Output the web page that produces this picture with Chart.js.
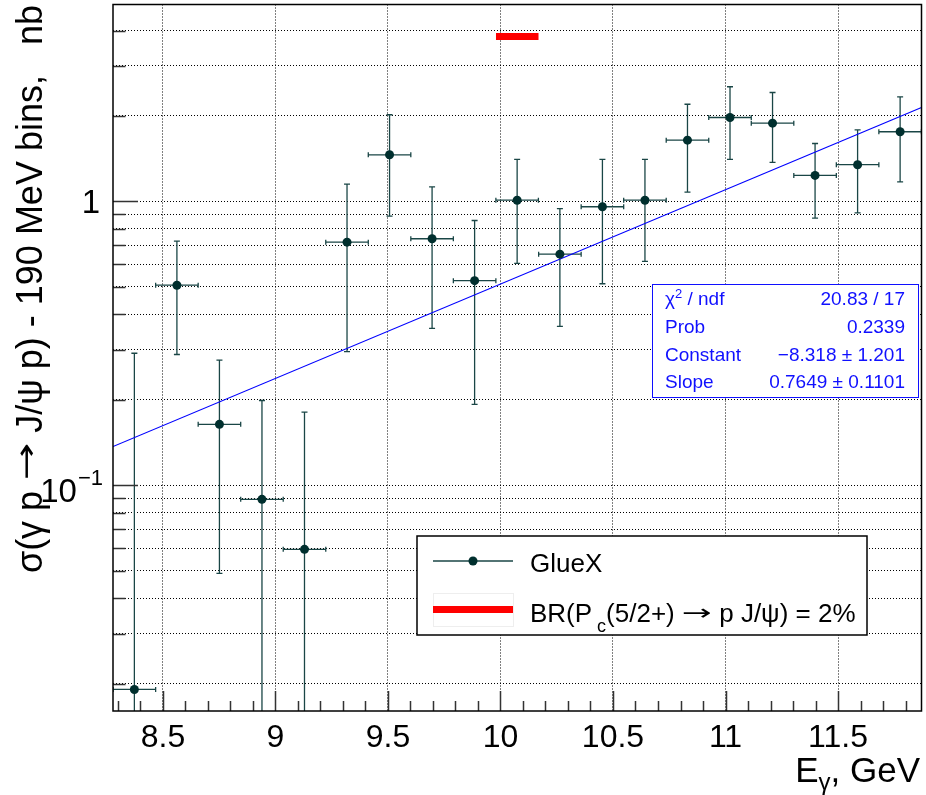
<!DOCTYPE html>
<html>
<head>
<meta charset="utf-8">
<title>J/psi photoproduction cross section</title>
<script src="https://cdn.jsdelivr.net/npm/chart.js@4.4.1/dist/chart.umd.min.js"></script>
<style>
  html, body { margin: 0; padding: 0; background: #fff; }
  canvas { display: block; }
</style>
</head>
<body>
<canvas id="chart" width="926" height="795"></canvas>
<script>
// photon energy bin centres (GeV), 190 MeV bins
const eGamma = [8.373, 8.562, 8.751, 8.940, 9.129, 9.318, 9.507, 9.696, 9.885, 10.074,
                10.264, 10.453, 10.642, 10.831, 11.020, 11.209, 11.398, 11.587, 11.776];
const binWidth = 0.189;

// cross section (nb) and the ends of the error bars
const sigma   = [0.0191, 0.507, 0.164, 0.0893, 0.0595, 0.719, 1.46, 0.739, 0.526, 1.01,
                 0.652, 0.958, 1.01, 1.644, 1.976, 1.887, 1.235, 1.347, 1.76];
const sigmaUp = [0.292, 0.725, 0.276, 0.199, 0.181, 1.15, 2.02, 1.126, 0.857, 1.406,
                 0.943, 1.406, 1.406, 2.20, 2.535, 2.42, 1.60, 1.788, 2.337];
// 0 -> bar runs out of the bottom of the frame
const sigmaDn = [0, 0.289, 0.049, 0, 0, 0.296, 0.888, 0.357, 0.193, 0.605,
                 0.363, 0.513, 0.615, 1.078, 1.406, 1.372, 0.873, 0.912, 1.173];

// exponential fit, a straight line on the log axis (end points)
const fitE = [8.278, 11.871];
const fitSigma = [0.137, 2.143];

// Pc(5/2+) expectation, BR = 2%
const pcE = [9.980, 10.169];
const pcSigma = [3.81, 3.81];

// fit results (stats box)
const chi2 = 20.83, ndf = 17, prob = 0.2339;
const constant = [-8.318, 1.201];
const slope = [0.7649, 0.1101];

// axes
const xRange = [8.278, 11.871];
const yRange = [0.01604, 4.94];
const xTickValues = [8.5, 9, 9.5, 10, 10.5, 11, 11.5];
const xTickLabels = ['8.5', '9', '9.5', '10', '10.5', '11', '11.5'];
const yGridValues = [0.02, 0.03, 0.04, 0.05, 0.06, 0.07, 0.08, 0.09,
                     0.1, 0.2, 0.3, 0.4, 0.5, 0.6, 0.7, 0.8, 0.9,
                     1, 2, 3, 4];
const yMajor = [0.1, 1];

const FONT = '"Liberation Sans", Arial, Helvetica, sans-serif';
const ARROW_FONT = '"DejaVu Sans", sans-serif';
const markerColor = '#002f2e';
const barColor = '#1a4646';
const statColor = '#1010ff';

function font(size, family) { return size + 'px ' + (family || FONT); }

// text made of runs: { t, size, dy, w, fam } ; w stretches the run to that width
function runsWidth(ctx, runs) {
  let total = 0;
  runs.forEach(r => { ctx.font = font(r.size, r.fam); total += r.w || ctx.measureText(r.t).width; });
  return total;
}
function drawRuns(ctx, runs, x, y) {
  ctx.textAlign = 'left';
  runs.forEach(r => {
    ctx.font = font(r.size, r.fam);
    const nat = ctx.measureText(r.t).width;
    const w = r.w || nat;
    ctx.save();
    ctx.translate(x, y + (r.dy || 0));
    ctx.scale(w / nat, 1);
    ctx.fillText(r.t, 0, 0);
    ctx.restore();
    x += w;
  });
  return x;
}

const errorBars = {
  id: 'errorBars',
  beforeDatasetsDraw(chart) {
    const { ctx, chartArea: a, scales: { x, y } } = chart;
    ctx.save();
    ctx.beginPath();
    ctx.rect(a.left, a.top, a.right - a.left, a.bottom - a.top);
    ctx.clip();
    ctx.strokeStyle = barColor;
    ctx.lineWidth = 1.3;
    eGamma.forEach((e, i) => {
      const px = x.getPixelForValue(e);
      const py = y.getPixelForValue(sigma[i]);
      const x0 = x.getPixelForValue(e - binWidth / 2);
      const x1 = x.getPixelForValue(e + binWidth / 2);
      const yTop = y.getPixelForValue(sigmaUp[i]);
      const yBot = sigmaDn[i] > 0 ? y.getPixelForValue(sigmaDn[i]) : a.bottom + 2;
      ctx.beginPath();
      ctx.moveTo(x0, py); ctx.lineTo(x1, py);
      ctx.moveTo(x0, py - 2.5); ctx.lineTo(x0, py + 2.5);
      ctx.moveTo(x1, py - 2.5); ctx.lineTo(x1, py + 2.5);
      ctx.moveTo(px, yTop); ctx.lineTo(px, yBot);
      ctx.moveTo(px - 3, yTop); ctx.lineTo(px + 3, yTop);
      if (sigmaDn[i] > 0) { ctx.moveTo(px - 3, yBot); ctx.lineTo(px + 3, yBot); }
      ctx.stroke();
    });
    ctx.restore();
  }
};

const rootFrame = {
  id: 'rootFrame',
  afterDatasetsDraw(chart) {
    const { ctx, chartArea: a, scales: { x, y } } = chart;
    ctx.save();
    // tick marks, inside the frame
    ctx.strokeStyle = '#333';
    ctx.lineWidth = 1.5;
    ctx.beginPath();
    for (let k = 83; k <= 118; k++) {
      const v = k / 10;
      const px = Math.round(x.getPixelForValue(v)) + 0.5;
      const len = (k % 5 === 0) ? 20 : 10;
      ctx.moveTo(px, a.bottom); ctx.lineTo(px, a.bottom - len);
    }
    yGridValues.forEach(v => {
      const py = Math.round(y.getPixelForValue(v)) + 0.5;
      const len = yMajor.includes(v) ? 25 : 12.5;
      ctx.moveTo(a.left, py); ctx.lineTo(a.left + len, py);
    });
    ctx.stroke();
    // frame
    ctx.strokeStyle = '#000';
    ctx.lineWidth = 1.5;
    ctx.strokeRect(a.left, a.top, a.right - a.left, a.bottom - a.top);
    ctx.restore();
  },
  afterDraw(chart) {
    const { ctx, chartArea: a, scales: { x, y } } = chart;
    ctx.save();
    ctx.fillStyle = '#000';

    // x tick labels
    ctx.font = font(32);
    ctx.textAlign = 'center';
    ctx.textBaseline = 'alphabetic';
    xTickValues.forEach((v, i) => ctx.fillText(xTickLabels[i], x.getPixelForValue(v), 747));

    // y tick labels
    ctx.textAlign = 'right';
    ctx.font = font(33);
    ctx.fillText('1', 100, y.getPixelForValue(1) + 12);
    const py1 = y.getPixelForValue(0.1);
    ctx.font = font(22);
    const supW = ctx.measureText('\u22121').width;
    ctx.fillText('\u22121', 103, py1);
    ctx.font = font(33);
    ctx.fillText('10', 103 - supW - 1, py1 + 17);

    // x title
    const xTitle = [
      { t: 'E', size: 35 },
      { t: '\u03b3', size: 24, dy: 8 },
      { t: ', GeV', size: 35 }
    ];
    drawRuns(ctx, xTitle, 920 - runsWidth(ctx, xTitle), 782);

    // y title
    const yTitle = [
      { t: '\u03c3(\u03b3 p ', size: 36 },
      { t: '\u2192', size: 30, fam: ARROW_FONT, w: 38, dy: -6 },
      { t: ' J/\u03c8 p) - 190 MeV bins,   nb', size: 36 }
    ];
    ctx.save();
    ctx.translate(42, 5);
    ctx.rotate(-Math.PI / 2);
    drawRuns(ctx, yTitle, -runsWidth(ctx, yTitle), 0);
    ctx.restore();

    // legend
    const lg = { l: 417, t: 536, r: 867, b: 635 };
    ctx.fillStyle = '#fff';
    ctx.fillRect(lg.l, lg.t, lg.r - lg.l, lg.b - lg.t);
    ctx.strokeStyle = '#000';
    ctx.lineWidth = 1.5;
    ctx.strokeRect(lg.l, lg.t, lg.r - lg.l, lg.b - lg.t);
    ctx.strokeStyle = barColor;
    ctx.lineWidth = 1.5;
    ctx.beginPath(); ctx.moveTo(433, 561); ctx.lineTo(513, 561); ctx.stroke();
    ctx.fillStyle = markerColor;
    ctx.beginPath(); ctx.arc(473, 561, 4.5, 0, 2 * Math.PI); ctx.fill();
    ctx.strokeStyle = '#eee';
    ctx.lineWidth = 1;
    ctx.strokeRect(433.5, 593.5, 80, 33);
    ctx.fillStyle = '#ff0000';
    ctx.fillRect(433, 606, 80, 7);
    ctx.fillStyle = '#000';
    ctx.font = font(26);
    ctx.textAlign = 'left';
    ctx.fillText('GlueX', 530, 572);
    drawRuns(ctx, [
      { t: 'BR(P', size: 26 },
      { t: ' c', size: 18, dy: 10 },
      { t: '(5/2+) ', size: 26 },
      { t: '\u2192', size: 22, fam: ARROW_FONT, w: 30, dy: -2 },
      { t: ' p J/\u03c8) = 2%', size: 26 }
    ], 530, 622);

    // stats box
    const sb = { l: 652, t: 284, r: 918, b: 397 };
    ctx.fillStyle = '#fff';
    ctx.fillRect(sb.l, sb.t, sb.r - sb.l, sb.b - sb.t);
    ctx.strokeStyle = statColor;
    ctx.lineWidth = 1;
    ctx.strokeRect(sb.l + 0.5, sb.t + 0.5, sb.r - sb.l, sb.b - sb.t);
    ctx.fillStyle = statColor;
    const rows = [
      ['', chi2.toFixed(2) + ' / ' + ndf],
      ['Prob', prob.toFixed(4)],
      ['Constant', '\u2212' + Math.abs(constant[0]).toFixed(3) + ' \u00b1 ' + constant[1].toFixed(3)],
      ['Slope', slope[0].toFixed(4) + ' \u00b1 ' + slope[1].toFixed(4)]
    ];
    rows.forEach((r, i) => {
      const by = 305 + i * 27.8;
      if (i === 0) {
        drawRuns(ctx, [
          { t: '\u03c7', size: 19 },
          { t: '2', size: 13, dy: -7 },
          { t: ' / ndf', size: 19 }
        ], 665, by);
      } else {
        ctx.font = font(19);
        ctx.textAlign = 'left';
        ctx.fillText(r[0], 665, by);
      }
      ctx.font = font(19);
      ctx.textAlign = 'right';
      ctx.fillText(r[1], 905, by);
    });
    ctx.restore();
  }
};

const ctx = document.getElementById('chart').getContext('2d');
const chart = new Chart(ctx, {
  type: 'scatter',
  data: {
    datasets: [
      {
        label: 'GlueX',
        data: eGamma.map((e, i) => ({ x: e, y: sigma[i] })),
        pointRadius: 4.5,
        pointBackgroundColor: markerColor,
        pointBorderColor: markerColor,
        pointBorderWidth: 0,
        showLine: false
      },
      {
        label: 'fit',
        data: fitE.map((e, i) => ({ x: e, y: fitSigma[i] })),
        showLine: true,
        borderColor: '#0000ff',
        borderWidth: 1.2,
        pointRadius: 0
      },
      {
        label: 'BR(Pc(5/2+) -> p J/psi) = 2%',
        data: pcE.map((e, i) => ({ x: e, y: pcSigma[i] })),
        showLine: true,
        borderColor: '#ff0000',
        borderWidth: 7,
        borderCapStyle: 'butt',
        pointRadius: 0
      }
    ]
  },
  options: {
    responsive: false,
    devicePixelRatio: 1,
    animation: false,
    layout: { padding: { left: 113, top: 4, right: 4, bottom: 84 } },
    plugins: { legend: { display: false }, tooltip: { enabled: false } },
    scales: {
      x: {
        type: 'linear',
        min: xRange[0],
        max: xRange[1],
        afterBuildTicks: s => { s.ticks = xTickValues.map(v => ({ value: v })); },
        ticks: { display: false },
        grid: { color: '#000', lineWidth: 1, drawTicks: false },
        border: { display: false, dash: [1, 2] }
      },
      y: {
        type: 'logarithmic',
        min: yRange[0],
        max: yRange[1],
        afterBuildTicks: s => { s.ticks = yGridValues.map(v => ({ value: v })); },
        ticks: { display: false },
        grid: { color: '#000', lineWidth: 1, drawTicks: false },
        border: { display: false, dash: [1, 2] }
      }
    }
  },
  plugins: [errorBars, rootFrame]
});
</script>
</body>
</html>
